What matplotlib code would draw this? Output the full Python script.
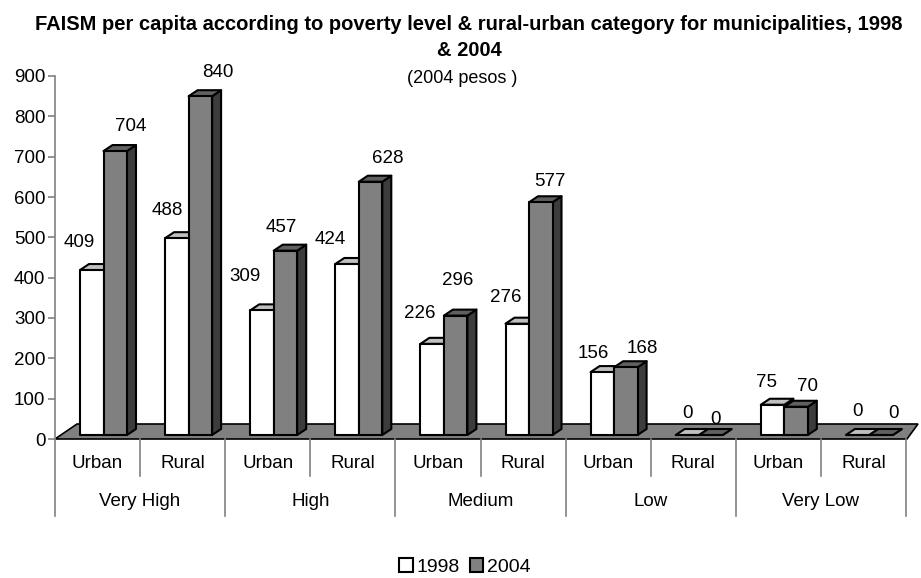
import numpy as np
import matplotlib
matplotlib.use("Agg")
import matplotlib.pyplot as plt
from matplotlib.patches import Polygon, Patch
import matplotlib.transforms as mtransforms

plt.rcParams['font.family'] = ['Liberation Sans', 'DejaVu Sans']

groups = ['Very High', 'High', 'Medium', 'Low', 'Very Low']
areas = ['Urban', 'Rural']
series = ['1998', '2004']
v1998 = [409, 488, 309, 424, 226, 276, 156, 0, 75, 0]
v2004 = [704, 840, 457, 628, 296, 577, 168, 0, 70, 0]

# label nudges in pixels (Excel moved some labels around)
off1998 = [(-13, 28), (-10, 28), (-17, 34), (-17, 24), (-12, 30),
           (-12, 26), (-9, 19), (0, 21), (-6, 22), (0, 23)]
off2004 = [(15, 25), (17, 24), (-4, 23), (17, 23), (2, 35),
           (9, 21), (16, 19), (5, 16), (11, 20), (12, 21)]

W, H = 921, 578
fig = plt.figure(figsize=(W / 100, H / 100), dpi=100)
x0, x1, y0, y1 = 55, 906, 439, 76
ax = fig.add_axes([x0 / W, 1 - y0 / H, (x1 - x0) / W, (y0 - y1) / H])
ax.set_xlim(0, 10)
ax.set_ylim(0, 900)

pxx = (x1 - x0) / 10.0   # pixels per x unit
pxy = (y0 - y1) / 900.0  # pixels per value unit

bw = 23.5 / pxx
gap = 25 / pxx
ddx = 9 / pxx
ddy = 6 / pxy
base = 4 / pxy

# floor
floor = Polygon([(0, 0), ((907 - x0) / pxx, 0), ((918 - x0) / pxx, 15 / pxy),
                 ((77 - x0) / pxx, 15 / pxy)], closed=True, facecolor='#808080',
                edgecolor='black', lw=1.2, clip_on=False, zorder=1)
ax.add_patch(floor)


def bar3d(xl, v, front, top, side):
    xr = xl + bw
    yb = base
    yt = base + v
    ax.add_patch(Polygon([(xr, yb), (xr + ddx, yb + ddy), (xr + ddx, yt + ddy), (xr, yt)],
                         facecolor=side, edgecolor='black', lw=1.5, clip_on=False, zorder=3, joinstyle='round'))
    ax.add_patch(Polygon([(xl, yt), (xl + ddx, yt + ddy), (xr + ddx, yt + ddy), (xr, yt)],
                         facecolor=top, edgecolor='black', lw=1.5, clip_on=False, zorder=3, joinstyle='round'))
    ax.add_patch(Polygon([(xl, yb), (xr, yb), (xr, yt), (xl, yt)],
                         facecolor=front, edgecolor='black', lw=1.5, clip_on=False, zorder=3, joinstyle='round'))


for i in range(10):
    xa = i + gap
    xb = xa + bw
    bar3d(xa, v1998[i], 'white', '#c0c0c0', '#c0c0c0')
    bar3d(xb, v2004[i], '#808080', '#606060', '#3c3c3c')
    ax.annotate(str(v1998[i]), (xa + bw / 2, base + v1998[i]), xytext=off1998[i],
                textcoords='offset pixels', ha='center', va='center', fontsize=13.5, zorder=5)
    ax.annotate(str(v2004[i]), (xb + bw / 2, base + v2004[i]), xytext=off2004[i],
                textcoords='offset pixels', ha='center', va='center', fontsize=13.5, zorder=5)

# axes styling
for s in ['top', 'right', 'bottom']:
    ax.spines[s].set_visible(False)
ax.spines['left'].set_color('#808080')
ax.spines['left'].set_linewidth(1.2)
ax.set_yticks(np.arange(0, 901, 100))
ax.tick_params(axis='y', direction='out', length=5, color='#808080', width=1.2,
               labelsize=13.5, pad=2)
ax.set_xticks([])
ax.set_facecolor('none')

# two-level category axis
tr = mtransforms.blended_transform_factory(ax.transData, ax.transAxes)
ay = lambda py: (y0 - py) / (y0 - y1)
for i in range(10):
    ax.text(i + 0.5, ay(463), areas[i % 2], transform=tr, ha='center', va='center', fontsize=13.5)
for g in range(5):
    ax.text(2 * g + 1, ay(502), groups[g], transform=tr, ha='center', va='center', fontsize=13.5)
for k in range(11):
    bottom = ay(516) if k % 2 == 0 else ay(476)
    ax.plot([k, k], [ay(439), bottom], transform=tr, color='#808080', lw=1.2,
            clip_on=False, zorder=2)

# titles
fig.text(469 / W, 1 - 24 / H,
         'FAISM per capita according to poverty level & rural-urban category for municipalities, 1998',
         ha='center', va='center', fontsize=14.5, fontweight='bold')
fig.text(469 / W, 1 - 51 / H, '& 2004', ha='center', va='center', fontsize=14.5, fontweight='bold')
fig.text(462 / W, 1 - 78 / H, '(2004 pesos )', ha='center', va='center', fontsize=13)

handles = [Patch(facecolor='white', edgecolor='black', lw=1.5),
           Patch(facecolor='#808080', edgecolor='black', lw=1.5)]
fig.legend(handles, series, loc='center', bbox_to_anchor=(465 / W, 1 - 567 / H), ncol=2,
           frameon=False, fontsize=14, handlelength=0.7, handleheight=0.7,
           handletextpad=0.2, columnspacing=0.5, borderpad=0)

fig.savefig('out.png', dpi=100)
